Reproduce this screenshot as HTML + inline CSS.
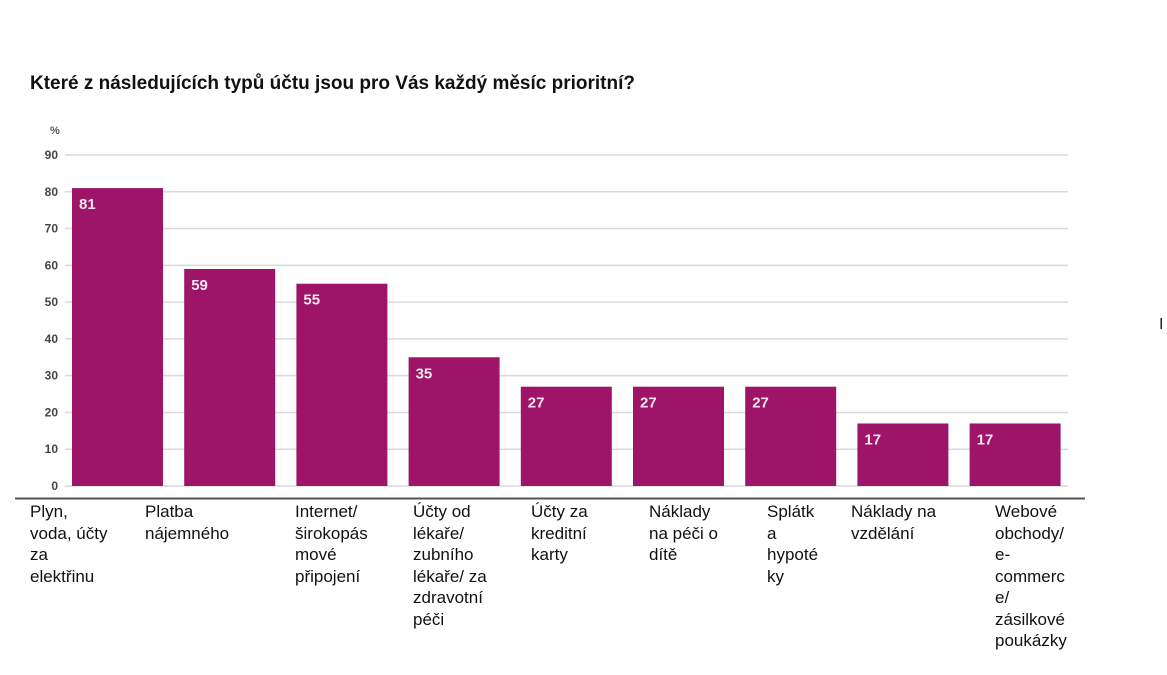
<!DOCTYPE html>
<html><head><meta charset="utf-8"><style>
body{margin:0;background:#fff;width:1167px;height:675px;overflow:hidden;font-family:"Liberation Sans",sans-serif;}
.lbl{position:absolute;font-size:17px;line-height:21.5px;color:#111;}
</style></head><body>
<div style="position:absolute;left:30px;top:73px;font-size:19px;font-weight:bold;color:#111;">Které z následujících typů účtu jsou pro Vás každý měsíc prioritní?</div>
<svg id="chart" width="1167" height="675" style="position:absolute;left:0;top:0"></svg>
<div class="lbl" style="left:30px;top:501px">Plyn,<br>voda, účty<br>za<br>elektřinu</div>
<div class="lbl" style="left:145px;top:501px">Platba<br>nájemného</div>
<div class="lbl" style="left:295px;top:501px">Internet/<br>širokopás<br>mové<br>připojení</div>
<div class="lbl" style="left:413px;top:501px">Účty od<br>lékaře/<br>zubního<br>lékaře/ za<br>zdravotní<br>péči</div>
<div class="lbl" style="left:531px;top:501px">Účty za<br>kreditní<br>karty</div>
<div class="lbl" style="left:649px;top:501px">Náklady<br>na péči o<br>dítě</div>
<div class="lbl" style="left:767px;top:501px">Splátk<br>a<br>hypoté<br>ky</div>
<div class="lbl" style="left:851px;top:501px">Náklady na<br>vzdělání</div>
<div class="lbl" style="left:995px;top:501px">Webové<br>obchody/<br>e-<br>commerc<br>e/<br>zásilkové<br>poukázky</div>
<div style="position:absolute;left:1159px;top:316px;font-size:16px;color:#222">I</div>
<script>
const categories=["Plyn, voda, účty za elektřinu","Platba nájemného","Internet/širokopásmové připojení","Účty od lékaře","Účty za kreditní karty","Náklady na péči o dítě","Splátka hypotéky","Náklady na vzdělání","Webové obchody"];
const values=[81,59,55,35,27,27,27,17,17];
const ticks=[0,10,20,30,40,50,60,70,80,90];
const NS="http://www.w3.org/2000/svg";
const svg=document.getElementById('chart');
const y0=486,yTop=155,yMax=90;
function y(v){return y0-(v/yMax)*(y0-yTop);}
const xStart=72,pitch=112.2,bw=91;
function x(i){return xStart+i*pitch;}
function mk(t,a){const e=document.createElementNS(NS,t);for(const k in a)e.setAttribute(k,a[k]);svg.appendChild(e);return e;}
let p=mk('text',{x:50,y:134,'font-size':11,'font-weight':'bold',fill:'#555','font-family':'Liberation Sans'});


p.textContent='%';
ticks.forEach(t=>{
 const g=mk('line',{x1:65,x2:1068,y1:y(t),y2:y(t),stroke:'#d9d9d9','stroke-width':1.5});
 
 
 const tx=mk('text',{x:58,y:y(t)+4,'text-anchor':'end','font-size':12,fill:'#444','font-weight':'bold','font-family':'Liberation Sans'});
 
 
 tx.textContent=t;
});
values.forEach((v,i)=>{
 const r=mk('rect',{x:x(i),y:y(v),width:bw,height:y0-y(v),fill:'#9e1468'});
 
 
 const t=mk('text',{x:x(i)+7,y:y(v)+21,'font-size':15,'font-weight':'bold',fill:'#f3e6ee','font-family':'Liberation Sans'});
 
 
 t.textContent=v;
});
const ax=mk('line',{x1:15,x2:1085,y1:498.5,y2:498.5,stroke:'#555','stroke-width':2});


</script>
</body></html>
